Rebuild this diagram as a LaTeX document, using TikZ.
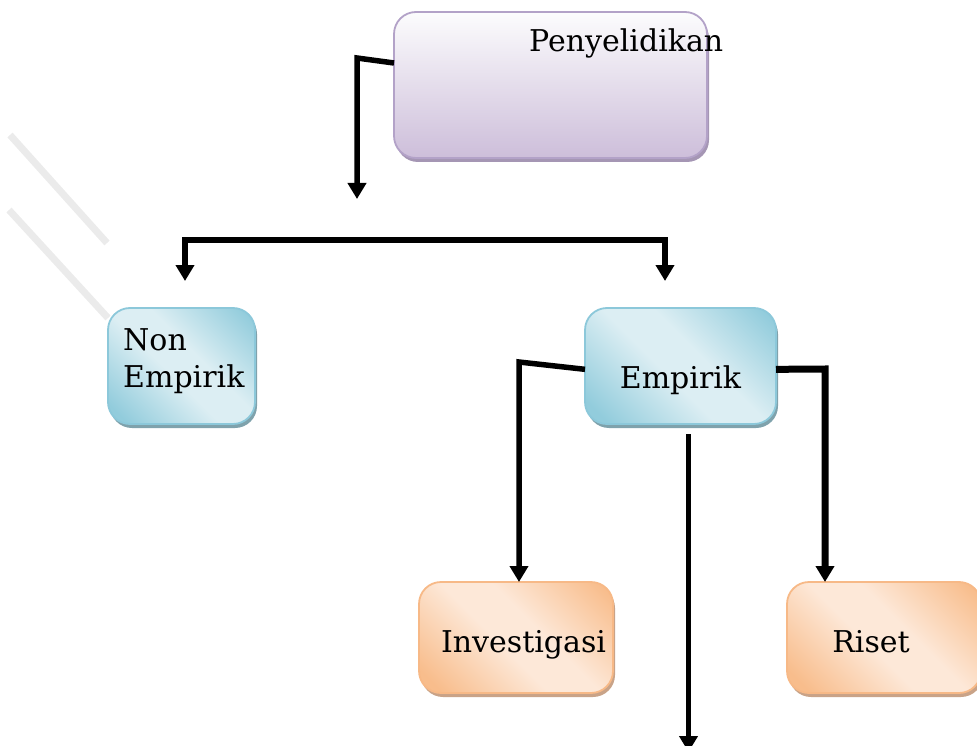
\documentclass[tikz,border=0pt]{standalone}
\usepackage{fontspec}
\setmainfont{DejaVu Serif}
\usetikzlibrary{arrows.meta,shadows}

% palette
\definecolor{purTop}{HTML}{FCFCFD}
\definecolor{purBot}{HTML}{CDBEDA}
\definecolor{purLine}{HTML}{B3A2C8}
\definecolor{purShade}{HTML}{A596B4}
\definecolor{tealDark}{HTML}{92CCDC}
\definecolor{tealLight}{HTML}{DCEEF3}
\definecolor{tealLine}{HTML}{8CC8DA}
\definecolor{tealShade}{HTML}{7FA2AC}
\definecolor{orDark}{HTML}{F8BD8C}
\definecolor{orLight}{HTML}{FDE8D8}
\definecolor{orLine}{HTML}{F7B987}
\definecolor{orShade}{HTML}{C9A388}
\definecolor{streak}{HTML}{EBEBEB}

% diagonal sheen: dark corners, light band between them
\pgfdeclarehorizontalshading{tealsheen}{100bp}{color(0bp)=(tealDark); color(20bp)=(tealDark); color(45bp)=(tealLight); color(57bp)=(tealLight); color(82bp)=(tealDark); color(100bp)=(tealDark)}
\pgfdeclarehorizontalshading{orangesheen}{100bp}{color(0bp)=(orDark); color(20bp)=(orDark); color(45bp)=(orLight); color(57bp)=(orLight); color(82bp)=(orDark); color(100bp)=(orDark)}

\tikzset{
  boxbase/.style={rectangle, rounded corners=22pt, line width=1.8pt, inner sep=0pt, outer sep=0pt},
  purplebox/.style={boxbase, draw=purLine, top color=purTop, bottom color=purBot,
    drop shadow={shadow xshift=2pt, shadow yshift=-4pt, fill=purShade, opacity=1}},
  tealbox/.style={boxbase, draw=tealLine, shading=tealsheen, shading angle=45,
    drop shadow={shadow xshift=2pt, shadow yshift=-4pt, fill=tealShade, opacity=1}},
  orangebox/.style={boxbase, draw=orLine, shading=orangesheen, shading angle=45,
    drop shadow={shadow xshift=2pt, shadow yshift=-4pt, fill=orShade, opacity=1}},
  lbl/.style={inner sep=0pt, font=\fontsize{30pt}{36pt}\selectfont},
  conn/.style={line width=5.5pt, ->},
  >={Triangle[width=18pt,length=16pt]}
}

\begin{document}
\begin{tikzpicture}[x=1pt,y=-1pt]
\useasboundingbox (0,0) rectangle (977,746);

% faint streaks in the upper left
\draw[streak, line width=7pt] (10,135) -- (107,243);
\draw[streak, line width=7pt] (9,210) -- (108,318);

% boxes
\node[purplebox, minimum width=313pt, minimum height=146pt] (peny) at (550.5,85) {};
\node[tealbox, minimum width=147pt, minimum height=116pt] (nonemp) at (181.5,366) {};
\node[tealbox, minimum width=191pt, minimum height=116pt] (emp) at (680.5,366) {};
\node[orangebox, minimum width=194pt, minimum height=111pt] (inv) at (516,637.5) {};
\node[orangebox, minimum width=194pt, minimum height=111pt] (riset) at (884,637.5) {};

% labels
\node[lbl, anchor=base west] (penyTxt) at (529,52) {Penyelidikan};
\node[lbl, anchor=base west] (nonTxt) at (123,350) {Non};
\node[lbl, anchor=base west] (nonTxtB) at (123,387) {Empirik};
\node[lbl, anchor=base] (empTxt) at (680.5,388) {Empirik};
\node[lbl, anchor=base] (invTxt) at (523.5,652) {Investigasi};
\node[lbl, anchor=base] (risTxt) at (871,652) {Riset};

% free ends of the connectors
\coordinate (penyEnd) at (357,199);
\coordinate (splitL) at (185,281);
\coordinate (splitR) at (665,281);
\coordinate (empEnd) at (688.5,752);

% connectors
\draw[conn] (peny.172) -- (357,58) -- (penyEnd);
\draw[conn, <->] (splitL) -- (185,240) -- (665,240) -- (splitR);
\draw[conn] (emp.182) -- (519,362) -- ([xshift=3pt]inv.north);
\draw[conn, line width=7pt] (emp.358) -- (825,369) -- ([xshift=38pt]riset.north west);
\draw[conn] ([xshift=8pt,yshift=-10pt]emp.south) -- (empEnd);
\end{tikzpicture}
\end{document}
